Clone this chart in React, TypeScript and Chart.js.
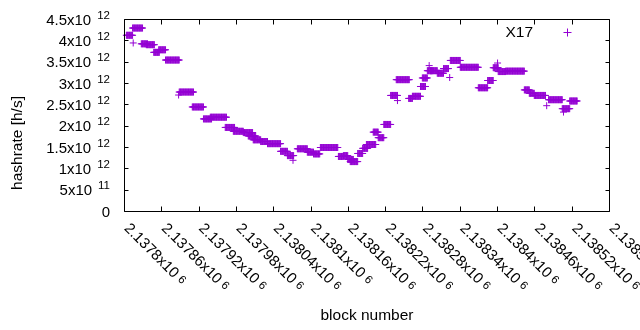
import { useEffect, useRef } from "react";
import { Chart, registerables } from "chart.js";

Chart.register(...registerables);

const seriesName = "X17";

// Runs of consecutive blocks that share one hashrate value (h/s)
const runStart = [
  2137803, 2137814, 2137813, 2137827, 2137835, 2137847, 2137855, 2137866, 2137887, 2137888,
  2137909, 2137927, 2137938, 2137962, 2137975, 2137991, 2137999, 2138007, 2138019, 2138030,
  2138051, 2138062, 2138071, 2138078, 2138094, 2138104, 2138115, 2138144, 2138152, 2138159,
  2138163, 2138175, 2138183, 2138189, 2138200, 2138208, 2138217, 2138228, 2138239, 2138237,
  2138257, 2138263, 2138276, 2138279, 2138287, 2138290, 2138292, 2138303, 2138313, 2138323,
  2138324, 2138340, 2138369, 2138384, 2138393, 2138400, 2138401, 2138413, 2138443, 2138451,
  2138459, 2138479, 2138482, 2138504, 2138506, 2138516,
];
const runEnd = [
  2137813, 2137814, 2137829, 2137837, 2137848, 2137856, 2137866, 2137888, 2137887, 2137911,
  2137927, 2137940, 2137964, 2137977, 2137991, 2138006, 2138011, 2138019, 2138030, 2138051,
  2138062, 2138072, 2138071, 2138094, 2138104, 2138114, 2138143, 2138152, 2138159, 2138168,
  2138175, 2138183, 2138191, 2138204, 2138208, 2138217, 2138228, 2138239, 2138239, 2138258,
  2138263, 2138276, 2138284, 2138287, 2138295, 2138290, 2138303, 2138313, 2138321, 2138323,
  2138340, 2138369, 2138384, 2138393, 2138401, 2138400, 2138413, 2138443, 2138451, 2138459,
  2138477, 2138479, 2138504, 2138516, 2138506, 2138528,
];
const runValue = [
  4.13e12, 3.95e12, 4.3e12, 3.93e12, 3.91e12, 3.73e12, 3.79e12, 3.55e12, 2.73e12, 2.8e12,
  2.45e12, 2.17e12, 2.21e12, 1.97e12, 1.88e12, 1.85e12, 1.77e12, 1.68e12, 1.64e12, 1.59e12,
  1.41e12, 1.31e12, 1.2e12, 1.47e12, 1.39e12, 1.35e12, 1.5e12, 1.29e12, 1.31e12, 1.22e12,
  1.17e12, 1.36e12, 1.48e12, 1.57e12, 1.86e12, 1.73e12, 2.04e12, 2.72e12, 2.6e12, 3.09e12,
  2.65e12, 2.7e12, 2.93e12, 3.13e12, 3.3e12, 3.42e12, 3.3e12, 3.24e12, 3.35e12, 3.14e12,
  3.54e12, 3.38e12, 2.9e12, 3.07e12, 3.37e12, 3.48e12, 3.28e12, 3.29e12, 2.85e12, 2.77e12,
  2.72e12, 2.48e12, 2.62e12, 2.41e12, 2.33e12, 2.59e12,
];

const xTickValues = [
  2137800, 2137860, 2137920, 2137980, 2138040, 2138100, 2138160, 2138220, 2138280, 2138340,
  2138400, 2138460, 2138520, 2138580,
];
const xTickLabels = [
  "2.1378", "2.13786", "2.13792", "2.13798", "2.13804", "2.1381", "2.13816", "2.13822",
  "2.13828", "2.13834", "2.1384", "2.13846", "2.13852", "2.13858",
];
const xTickExponent = "6";
const yTickValues = [0, 0.5e12, 1e12, 1.5e12, 2e12, 2.5e12, 3e12, 3.5e12, 4e12, 4.5e12];
const yTickMantissa = ["0", "5", "1", "1.5", "2", "2.5", "3", "3.5", "4", "4.5"];
const yTickExponent = ["", "11", "12", "12", "12", "12", "12", "12", "12", "12"];

const xTitle = "block number";
const yTitle = "hashrate [h/s]";

const COLOR = "#9400d3";
const FONT = "'Liberation Sans', Arial, sans-serif";
const TICK_FONT = 15;
const SUP_FONT = 11.5;
const TITLE_FONT = 15.5;

const gnuplotFrame = {
  id: "gnuplotFrame",
  afterDraw(chart: any) {
    const ctx = chart.ctx as CanvasRenderingContext2D;
    const xs = chart.scales.x;
    const ys = chart.scales.y;
    const { left, right, top, bottom } = chart.chartArea;
    ctx.save();
    ctx.strokeStyle = "#000";
    ctx.lineWidth = 1;
    ctx.beginPath();
    ctx.rect(left, top, right - left, bottom - top);
    ctx.stroke();
    // ticks
    ctx.beginPath();
    for (const v of yTickValues) {
      const y = Math.round(ys.getPixelForValue(v) - 0.5) + 0.5;
      ctx.moveTo(left, y);
      ctx.lineTo(left + 4, y);
      ctx.moveTo(right, y);
      ctx.lineTo(right - 4, y);
    }
    for (const v of xTickValues) {
      const x = Math.round(xs.getPixelForValue(v) - 0.5) + 0.5;
      ctx.moveTo(x, bottom);
      ctx.lineTo(x, bottom - 5);
      ctx.moveTo(x, top);
      ctx.lineTo(x, top + 5);
    }
    ctx.stroke();

    ctx.fillStyle = "#000";
    // y tick labels
    const labelRight = 110;
    yTickValues.forEach((v, i) => {
      const y = ys.getPixelForValue(v);
      const base = y + 5.3;
      const exp = yTickExponent[i];
      if (!exp) {
        ctx.font = `${TICK_FONT}px ${FONT}`;
        ctx.textAlign = "right";
        ctx.textBaseline = "alphabetic";
        ctx.fillText(yTickMantissa[i], labelRight, base);
        return;
      }
      ctx.font = `${SUP_FONT}px ${FONT}`;
      const supW = ctx.measureText(exp).width;
      ctx.textAlign = "left";
      ctx.textBaseline = "alphabetic";
      ctx.fillText(exp, labelRight - supW, base - 6);
      ctx.font = `${TICK_FONT}px ${FONT}`;
      ctx.textAlign = "right";
      ctx.fillText(`${yTickMantissa[i]}x10`, labelRight - supW - 6, base);
    });

    // x tick labels (rotated clockwise 45deg)
    xTickValues.forEach((v, i) => {
      const x = xs.getPixelForValue(v);
      ctx.save();
      ctx.translate(x - 1, 229);
      ctx.rotate(Math.PI / 4);
      ctx.textAlign = "left";
      ctx.textBaseline = "alphabetic";
      ctx.font = `${TICK_FONT}px ${FONT}`;
      const main = `${xTickLabels[i]}x10`;
      ctx.fillText(main, 0, 0);
      const w = ctx.measureText(main).width;
      ctx.font = `${SUP_FONT}px ${FONT}`;
      ctx.fillText(xTickExponent, w + 4, -2);
      ctx.restore();
    });

    // axis titles
    ctx.font = `${TITLE_FONT}px ${FONT}`;
    ctx.textAlign = "center";
    ctx.textBaseline = "middle";
    ctx.fillText(xTitle, (left + right) / 2, 316);
    ctx.save();
    ctx.translate(18, 143);
    ctx.rotate(-Math.PI / 2);
    ctx.fillText(yTitle, 0, 0);
    ctx.restore();

    // key
    ctx.font = `${TITLE_FONT}px ${FONT}`;
    ctx.textAlign = "right";
    ctx.textBaseline = "alphabetic";
    ctx.fillText(seriesName, 533, 37);
    ctx.strokeStyle = COLOR;
    ctx.beginPath();
    ctx.moveTo(563.5, 32.5);
    ctx.lineTo(571.5, 32.5);
    ctx.moveTo(567.5, 28.5);
    ctx.lineTo(567.5, 36.5);
    ctx.stroke();
    ctx.restore();
  },
};

export default function App() {
  const canvasRef = useRef<HTMLCanvasElement | null>(null);

  useEffect(() => {
    if (!canvasRef.current) return;
    const points: { x: number; y: number }[] = [];
    for (let r = 0; r < runStart.length; r++) {
      for (let b = runStart[r]; b <= runEnd[r]; b++) {
        points.push({ x: b, y: runValue[r] });
      }
    }
    const chart = new Chart(canvasRef.current, {
      type: "scatter",
      data: {
        datasets: [
          {
            label: seriesName,
            data: points,
            pointStyle: "cross",
            pointRadius: 3.5,
            borderWidth: 1,
            borderColor: COLOR,
            backgroundColor: COLOR,
            clip: false as any,
          },
        ],
      },
      options: {
        responsive: false,
        animation: false,
        devicePixelRatio: 1,
        events: [],
        layout: { padding: { left: 124.5, right: 30.5, top: 19.5, bottom: 118.5 } },
        plugins: { legend: { display: false }, tooltip: { enabled: false } },
        scales: {
          x: { type: "linear", min: 2137800, max: 2138580, display: false },
          y: { type: "linear", min: 0, max: 4.5e12, display: false },
        },
      },
      plugins: [gnuplotFrame],
    });
    return () => chart.destroy();
  }, []);

  return (
    <div style={{ position: "absolute", left: 0, top: 0, width: 640, height: 330, background: "#fff" }}>
      <canvas ref={canvasRef} width={640} height={330} style={{ display: "block" }} />
    </div>
  );
}
